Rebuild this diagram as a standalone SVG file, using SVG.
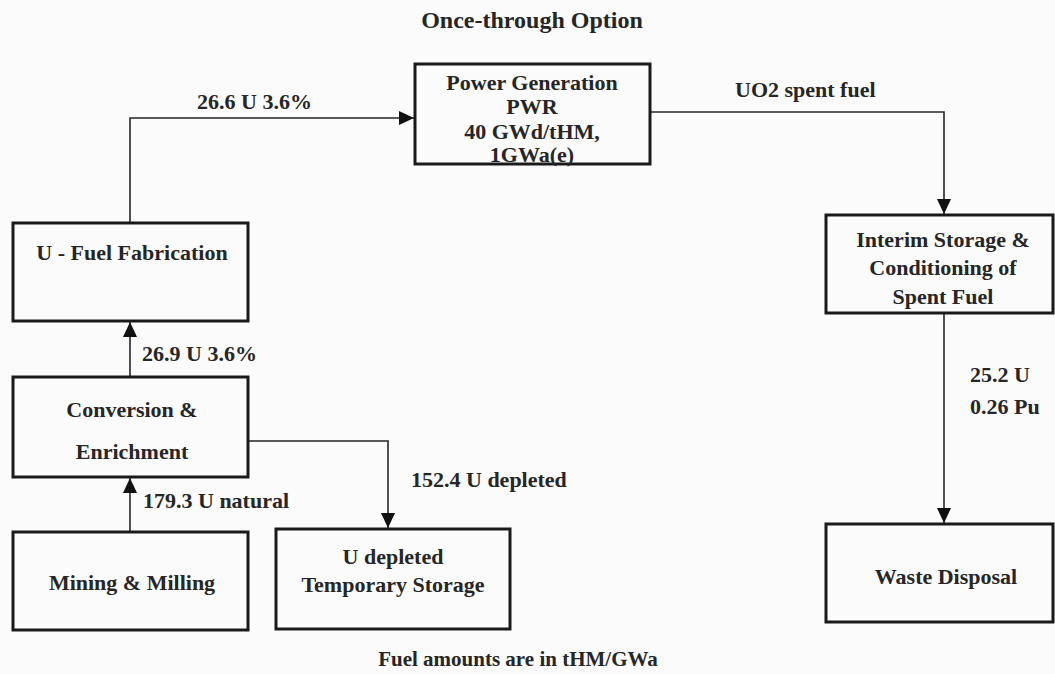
<svg xmlns="http://www.w3.org/2000/svg" width="1055" height="674" viewBox="0 0 1055 674">
<style>
.box{fill:none;stroke:#1a1a1a;stroke-width:3}
.t{font-family:"Liberation Serif","Times New Roman",serif;font-weight:bold;font-size:22px;fill:#262626;text-anchor:middle}
.l{font-family:"Liberation Serif","Times New Roman",serif;font-weight:bold;font-size:22px;fill:#262626}
.c{fill:none;stroke:#262626;stroke-width:1.6}
</style>
<defs>
<marker id="ah" markerUnits="userSpaceOnUse" markerWidth="16" markerHeight="14" refX="15" refY="7" orient="auto">
<path d="M0,0 L15,7 L0,14 Z" fill="#111"/>
</marker>
</defs>
<rect width="1055" height="674" fill="#fbfbfb"/>
<text class="t" x="532" y="28" style="font-size:24px">Once-through Option</text>
<g id="connectors">
<polyline class="c" points="130,223 130,118 414,118" marker-end="url(#ah)"/>
<polyline class="c" points="130,377 130,322" marker-end="url(#ah)"/>
<polyline class="c" points="130,532 130,478" marker-end="url(#ah)"/>
<polyline class="c" points="248,441 388,441 388,528" marker-end="url(#ah)"/>
<polyline class="c" points="650,112 944,112 944,214" marker-end="url(#ah)"/>
<polyline class="c" points="944,313 944,523" marker-end="url(#ah)"/>
<text class="l" x="197" y="109">26.6 U 3.6%</text>
<text class="l" x="735" y="97">UO2 spent fuel</text>
<text class="l" x="142" y="361">26.9 U 3.6%</text>
<text class="l" x="143" y="508">179.3 U natural</text>
<text class="l" x="411" y="487">152.4 U depleted</text>
<text class="l" x="970" y="382">25.2 U</text>
<text class="l" x="970" y="414">0.26 Pu</text>
</g>
<g id="power">
<rect class="box" x="415" y="64" width="235" height="100"/>
<text class="t" x="532" y="90">Power Generation</text>
<text class="t" x="532" y="114">PWR</text>
<text class="t" x="532" y="139">40 GWd/tHM,</text>
<text class="t" x="532" y="162">1GWa(e)</text>
</g>
<g id="fabrication">
<rect class="box" x="13" y="223" width="235" height="98"/>
<text class="t" x="132" y="260">U - Fuel Fabrication</text>
</g>
<g id="conversion">
<rect class="box" x="13" y="377" width="235" height="100"/>
<text class="t" x="132" y="417">Conversion &amp;</text>
<text class="t" x="132" y="459">Enrichment</text>
</g>
<g id="mining">
<rect class="box" x="13" y="532" width="235" height="98"/>
<text class="t" x="132" y="590">Mining &amp; Milling</text>
</g>
<g id="depleted">
<rect class="box" x="276" y="529" width="234" height="100"/>
<text class="t" x="393" y="564">U depleted</text>
<text class="t" x="393" y="592">Temporary Storage</text>
</g>
<g id="interim">
<rect class="box" x="826" y="215" width="227" height="98"/>
<text class="t" x="943" y="247">Interim Storage &amp;</text>
<text class="t" x="943" y="275">Conditioning of</text>
<text class="t" x="943" y="304">Spent Fuel</text>
</g>
<g id="waste">
<rect class="box" x="826" y="524" width="227" height="98"/>
<text class="t" x="946" y="584">Waste Disposal</text>
</g>
<text class="t" x="518" y="666" style="font-size:21px">Fuel amounts are in tHM/GWa</text>
</svg>
